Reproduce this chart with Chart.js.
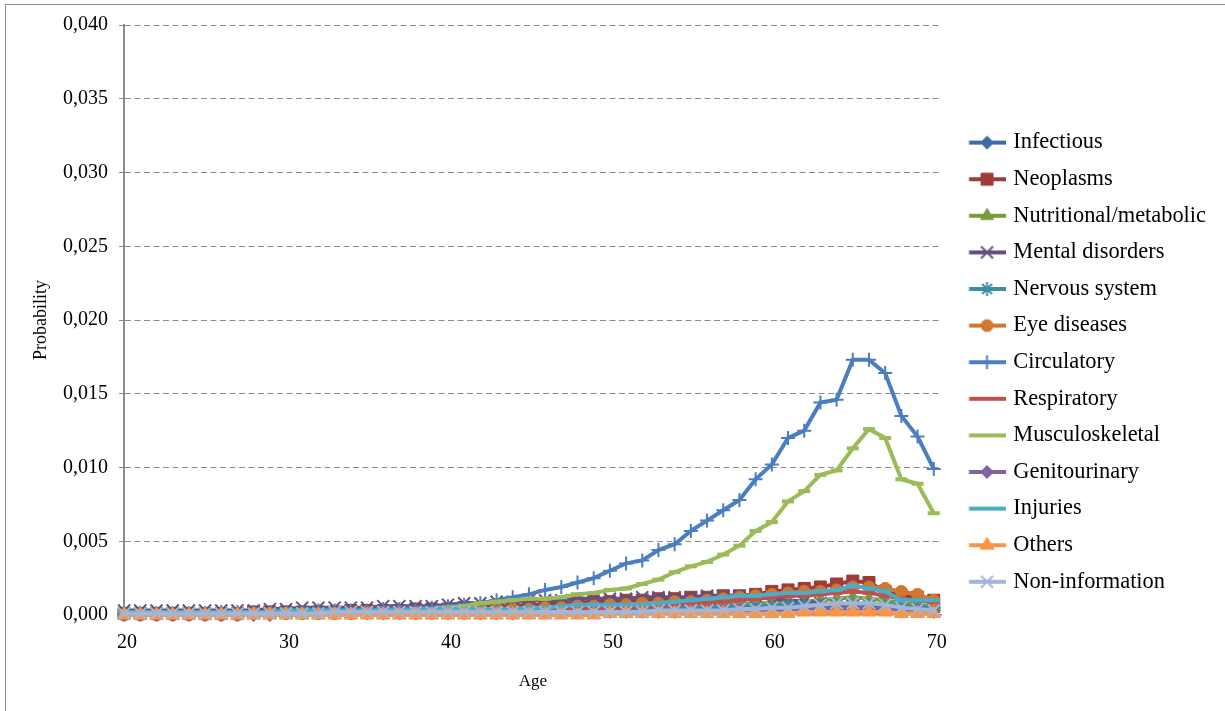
<!DOCTYPE html>
<html>
<head>
<meta charset="utf-8">
<title>Probability by age</title>
<script src="https://cdn.jsdelivr.net/npm/chart.js@4.4.1/dist/chart.umd.min.js"></script>
<style>
  html, body { margin: 0; padding: 0; background: #fff; }
  #wrap { position: relative; width: 1225px; height: 711px; overflow: hidden; }
  #frame { position: absolute; left: 5px; top: 4px; width: 1240px; height: 720px;
           border-left: 1.5px solid #8c8c8c; border-top: 1.5px solid #8c8c8c; pointer-events: none; }
</style>
</head>
<body>
<div id="wrap">
  <canvas id="chart" width="1225" height="711" style="width:1225px;height:711px"></canvas>
  <div id="frame"></div>
</div>
<script>
// ── Data ──────────────────────────────────────────────────────────────

const ages = [20, 21, 22, 23, 24, 25, 26, 27, 28, 29,
              30, 31, 32, 33, 34, 35, 36, 37, 38, 39,
              40, 41, 42, 43, 44, 45, 46, 47, 48, 49,
              50, 51, 52, 53, 54, 55, 56, 57, 58, 59,
              60, 61, 62, 63, 64, 65, 66, 67, 68, 69, 70];

const infectious = [0.0001, 0.0001, 0.0001, 0.0001, 0.0001, 0.0001, 0.0001, 0.0001, 0.0001, 0.0001,
                    0.0001, 0.0001, 0.0001, 0.0001, 0.0001, 0.0002, 0.0002, 0.0002, 0.0002, 0.0002,
                    0.0002, 0.0002, 0.0002, 0.0002, 0.0002, 0.0003, 0.0003, 0.0003, 0.0003, 0.0003,
                    0.0003, 0.0003, 0.0003, 0.0003, 0.0003, 0.0004, 0.0004, 0.0004, 0.0004, 0.0004,
                    0.0004, 0.0005, 0.0005, 0.0005, 0.0005, 0.0006, 0.0005, 0.0005, 0.0004, 0.0004, 0.0003];

const neoplasms = [0.0001, 0.0001, 0.0001, 0.0001, 0.0001, 0.0001, 0.0001, 0.0001, 0.0002, 0.0002,
                   0.0002, 0.0002, 0.0002, 0.0002, 0.0003, 0.0003, 0.0003, 0.0003, 0.0004, 0.0004,
                   0.0004, 0.0005, 0.0005, 0.0006, 0.0006, 0.0007, 0.0007, 0.0008, 0.0008, 0.0009,
                   0.0009, 0.0010, 0.0010, 0.0011, 0.0011, 0.0012, 0.0012, 0.0013, 0.0013, 0.0014,
                   0.0016, 0.0017, 0.0018, 0.0019, 0.0021, 0.0023, 0.0022, 0.0016, 0.0013, 0.0012, 0.0010];

const nutritional = [0.0001, 0.0001, 0.0001, 0.0001, 0.0001, 0.0001, 0.0001, 0.0001, 0.0001, 0.0001,
                     0.0001, 0.0001, 0.0001, 0.0001, 0.0002, 0.0002, 0.0002, 0.0002, 0.0002, 0.0002,
                     0.0002, 0.0002, 0.0003, 0.0003, 0.0003, 0.0003, 0.0004, 0.0004, 0.0004, 0.0004,
                     0.0005, 0.0005, 0.0005, 0.0006, 0.0006, 0.0006, 0.0007, 0.0007, 0.0007, 0.0008,
                     0.0008, 0.0009, 0.0009, 0.0010, 0.0011, 0.0012, 0.0011, 0.0010, 0.0008, 0.0007, 0.0006];

const mental = [0.0003, 0.0003, 0.0003, 0.0003, 0.0003, 0.0003, 0.0003, 0.0003, 0.0003, 0.0004,
                0.0004, 0.0005, 0.0005, 0.0005, 0.0005, 0.0005, 0.0006, 0.0006, 0.0006, 0.0006,
                0.0007, 0.0008, 0.0008, 0.0009, 0.0009, 0.0010, 0.0010, 0.0010, 0.0011, 0.0011,
                0.0011, 0.0011, 0.0012, 0.0012, 0.0012, 0.0012, 0.0013, 0.0013, 0.0013, 0.0012,
                0.0011, 0.0010, 0.0009, 0.0008, 0.0007, 0.0006, 0.0005, 0.0004, 0.0004, 0.0003, 0.0003];

const nervous = [0.0001, 0.0001, 0.0001, 0.0001, 0.0001, 0.0001, 0.0001, 0.0001, 0.0001, 0.0001,
                 0.0002, 0.0002, 0.0002, 0.0002, 0.0002, 0.0002, 0.0002, 0.0002, 0.0002, 0.0002,
                 0.0002, 0.0002, 0.0002, 0.0003, 0.0003, 0.0003, 0.0003, 0.0003, 0.0004, 0.0004,
                 0.0004, 0.0004, 0.0004, 0.0005, 0.0005, 0.0005, 0.0005, 0.0006, 0.0006, 0.0006,
                 0.0006, 0.0007, 0.0007, 0.0007, 0.0007, 0.0008, 0.0007, 0.0007, 0.0006, 0.0005, 0.0005];

const eye = [0.0000, 0.0000, 0.0000, 0.0000, 0.0000, 0.0000, 0.0000, 0.0000, 0.0001, 0.0001,
             0.0001, 0.0001, 0.0001, 0.0001, 0.0001, 0.0002, 0.0002, 0.0002, 0.0002, 0.0002,
             0.0003, 0.0003, 0.0003, 0.0004, 0.0004, 0.0004, 0.0005, 0.0005, 0.0006, 0.0006,
             0.0007, 0.0007, 0.0008, 0.0008, 0.0009, 0.0009, 0.0010, 0.0011, 0.0012, 0.0013,
             0.0014, 0.0015, 0.0016, 0.0016, 0.0017, 0.0019, 0.0019, 0.0018, 0.0016, 0.0014, 0.0010];

const circulatory = [0.0001, 0.0001, 0.0001, 0.0001, 0.0001, 0.0001, 0.0002, 0.0002, 0.0002, 0.0002,
                     0.0002, 0.0002, 0.0003, 0.0003, 0.0003, 0.0003, 0.0004, 0.0004, 0.0004, 0.0005,
                     0.0006, 0.0007, 0.0008, 0.0010, 0.0012, 0.0014, 0.0017, 0.0019, 0.0022, 0.0025,
                     0.0030, 0.0035, 0.0037, 0.0044, 0.0048, 0.0057, 0.0064, 0.0071, 0.0078, 0.0092,
                     0.0102, 0.0120, 0.0125, 0.0144, 0.0146, 0.0173, 0.0173, 0.0164, 0.0135, 0.0121, 0.0099];

const respiratory = [0.0001, 0.0001, 0.0001, 0.0001, 0.0001, 0.0001, 0.0001, 0.0001, 0.0001, 0.0001,
                     0.0002, 0.0002, 0.0002, 0.0002, 0.0002, 0.0002, 0.0002, 0.0002, 0.0002, 0.0002,
                     0.0003, 0.0003, 0.0003, 0.0003, 0.0003, 0.0004, 0.0004, 0.0004, 0.0004, 0.0004,
                     0.0005, 0.0005, 0.0006, 0.0006, 0.0007, 0.0008, 0.0008, 0.0009, 0.0010, 0.0011,
                     0.0012, 0.0013, 0.0013, 0.0014, 0.0015, 0.0016, 0.0015, 0.0013, 0.0011, 0.0010, 0.0009];

const musculoskeletal = [0.0000, 0.0000, 0.0000, 0.0000, 0.0001, 0.0001, 0.0001, 0.0001, 0.0001, 0.0001,
                         0.0001, 0.0001, 0.0002, 0.0002, 0.0002, 0.0002, 0.0003, 0.0003, 0.0003, 0.0004,
                         0.0005, 0.0006, 0.0008, 0.0009, 0.0010, 0.0011, 0.0011, 0.0012, 0.0014, 0.0015,
                         0.0017, 0.0018, 0.0021, 0.0024, 0.0029, 0.0033, 0.0036, 0.0041, 0.0047, 0.0057,
                         0.0063, 0.0077, 0.0084, 0.0095, 0.0098, 0.0113, 0.0126, 0.0120, 0.0092, 0.0089, 0.0069];

const genitourinary = [0.0000, 0.0000, 0.0000, 0.0000, 0.0000, 0.0000, 0.0000, 0.0000, 0.0000, 0.0000,
                       0.0001, 0.0001, 0.0001, 0.0001, 0.0001, 0.0001, 0.0001, 0.0001, 0.0001, 0.0001,
                       0.0001, 0.0001, 0.0001, 0.0001, 0.0001, 0.0002, 0.0002, 0.0002, 0.0002, 0.0002,
                       0.0002, 0.0002, 0.0002, 0.0002, 0.0002, 0.0003, 0.0003, 0.0003, 0.0003, 0.0003,
                       0.0003, 0.0003, 0.0004, 0.0004, 0.0004, 0.0005, 0.0004, 0.0004, 0.0003, 0.0003, 0.0002];

const injuries = [0.0002, 0.0002, 0.0002, 0.0002, 0.0002, 0.0002, 0.0002, 0.0002, 0.0002, 0.0002,
                  0.0003, 0.0003, 0.0003, 0.0003, 0.0003, 0.0003, 0.0003, 0.0003, 0.0004, 0.0004,
                  0.0004, 0.0004, 0.0004, 0.0004, 0.0004, 0.0005, 0.0005, 0.0006, 0.0007, 0.0007,
                  0.0007, 0.0007, 0.0007, 0.0008, 0.0009, 0.0010, 0.0011, 0.0012, 0.0013, 0.0013,
                  0.0014, 0.0015, 0.0015, 0.0016, 0.0017, 0.0020, 0.0018, 0.0016, 0.0010, 0.0010, 0.0010];

const others = [0.0000, 0.0000, 0.0000, 0.0000, 0.0000, 0.0000, 0.0000, 0.0000, 0.0000, 0.0000,
                0.0000, 0.0000, 0.0000, 0.0000, 0.0000, 0.0000, 0.0000, 0.0000, 0.0000, 0.0000,
                0.0000, 0.0000, 0.0000, 0.0000, 0.0000, 0.0000, 0.0000, 0.0000, 0.0000, 0.0000,
                0.0001, 0.0001, 0.0001, 0.0001, 0.0001, 0.0001, 0.0001, 0.0001, 0.0001, 0.0001,
                0.0001, 0.0001, 0.0002, 0.0002, 0.0002, 0.0002, 0.0002, 0.0002, 0.0001, 0.0001, 0.0001];

const noInfo = [0.0001, 0.0001, 0.0001, 0.0001, 0.0001, 0.0001, 0.0001, 0.0001, 0.0001, 0.0001,
                0.0001, 0.0001, 0.0001, 0.0002, 0.0002, 0.0002, 0.0002, 0.0002, 0.0002, 0.0002,
                0.0002, 0.0002, 0.0002, 0.0002, 0.0002, 0.0002, 0.0002, 0.0002, 0.0002, 0.0002,
                0.0002, 0.0002, 0.0002, 0.0003, 0.0003, 0.0003, 0.0003, 0.0003, 0.0004, 0.0004,
                0.0005, 0.0005, 0.0006, 0.0007, 0.0008, 0.0008, 0.0008, 0.0007, 0.0005, 0.0004, 0.0003];

const seriesNames = ['Infectious', 'Neoplasms', 'Nutritional/metabolic', 'Mental disorders',
                     'Nervous system', 'Eye diseases', 'Circulatory', 'Respiratory',
                     'Musculoskeletal', 'Genitourinary', 'Injuries', 'Others', 'Non-information'];
const seriesValues = [infectious, neoplasms, nutritional, mental, nervous, eye, circulatory,
                      respiratory, musculoskeletal, genitourinary, injuries, others, noInfo];

const xTicks = [20, 30, 40, 50, 60, 70];
const xTickLabels = ['20', '30', '40', '50', '60', '70'];
const yTicks = [0, 0.005, 0.010, 0.015, 0.020, 0.025, 0.030, 0.035, 0.040];
const yTickLabels = ['0,000', '0,005', '0,010', '0,015', '0,020', '0,025', '0,030', '0,035', '0,040'];

// ── Styles (Excel-like markers) ──────────────────────────────────────

const seriesStyles = [
    { color: '#3D6CA5', marker: 'rectRot',  r: 6.5, pw: 1 },
    { color: '#9E3B38', marker: 'rect',     r: 8.5, pw: 1 },
    { color: '#7A9A3D', marker: 'triangle', r: 7.5, pw: 1 },
    { color: '#65507F', marker: 'crossRot', r: 8.5, pw: 2 },
    { color: '#3B8DA2', marker: 'star',     r: 7,   pw: 2 },
    { color: '#D0782F', marker: 'circle',   r: 6,   pw: 1 },
    { color: '#4A7EC0', marker: 'cross',    r: 7,   pw: 2 },
    { color: '#C0504D', marker: 'line',     r: 6,   pw: 4 },
    { color: '#9BBB59', marker: 'line',     r: 6,   pw: 4 },
    { color: '#8064A2', marker: 'rectRot',  r: 6.5, pw: 1 },
    { color: '#4BACC6', marker: 'line',     r: 6,   pw: 4 },
    { color: '#F79646', marker: 'triangle', r: 8,   pw: 1 },
    { color: '#A3B6D8', marker: 'crossRot', r: 8.5, pw: 2 },
];

Chart.defaults.font.family = "'Liberation Serif', 'Times New Roman', serif";
Chart.defaults.color = '#000';

// Legend icon: short line with the marker in the middle
function makeLegendIcon(style) {
    const c = document.createElement('canvas');
    c.width = 53; c.height = 20;
    const g = c.getContext('2d');
    g.strokeStyle = style.color;
    g.fillStyle = style.color;
    g.lineWidth = 4;
    g.beginPath(); g.moveTo(16.5, 10); g.lineTo(53, 10); g.stroke();
    g.lineWidth = style.pw;
    Chart.helpers.drawPoint(g, { pointStyle: style.marker, radius: style.r, borderWidth: style.pw, rotation: 0 }, 34.5, 10);
    return c;
}
const legendIcons = seriesStyles.map(makeLegendIcon);

const datasets = seriesNames.map((name, i) => {
    const st = seriesStyles[i];
    return {
        label: name,
        data: seriesValues[i].map((v, j) => ({ x: ages[j], y: v })),
        borderColor: st.color,
        backgroundColor: st.color,
        borderWidth: 4,
        tension: 0,
        pointStyle: st.marker,
        pointRadius: st.r,
        pointBorderWidth: st.pw,
        pointBackgroundColor: st.color,
        pointBorderColor: st.color,
        clip: false,
        order: seriesNames.length - 1 - i,   // later series on top, like Excel
    };
});

new Chart(document.getElementById('chart'), {
    type: 'line',
    data: { datasets },
    options: {
        responsive: false,
        animation: false,
        events: [],
        layout: { padding: { left: 30.5, top: 25, right: 9, bottom: 18.8 } },
        scales: {
            x: {
                type: 'linear',
                min: 20,
                max: 70.5,
                afterBuildTicks: s => { s.ticks = xTicks.map(v => ({ value: v })); },
                ticks: {
                    font: { size: 20 },
                    padding: 16,
                    labelOffset: 3,
                    maxRotation: 0,
                    callback: (v, i) => xTickLabels[i],
                },
                grid: { display: false, drawTicks: false },
                border: { display: true, color: '#8c8c8c', width: 1.5 },
                title: { display: true, text: 'Age', font: { size: 17 }, padding: { top: 0.8, bottom: 0 } },
            },
            y: {
                min: 0,
                max: 0.04,
                afterBuildTicks: s => { s.ticks = yTicks.map(v => ({ value: v })); },
                ticks: {
                    font: { size: 20 },
                    padding: 11,
                    callback: (v, i) => yTickLabels[i],
                },
                grid: {
                    color: c => (c.tick && c.tick.value === 0 ? 'rgba(0,0,0,0)' : '#8c8c8c'),
                    lineWidth: 1,
                    tickLength: 5,
                    tickColor: '#8c8c8c',
                    tickBorderDash: [],
                },
                border: { display: true, color: '#8c8c8c', width: 2, dash: [6, 3.5] },
                title: { display: true, text: 'Probability', font: { size: 18 }, padding: { top: 0, bottom: 0 } },
            },
        },
        plugins: {
            tooltip: { enabled: false },
            legend: {
                position: 'right',
                align: 'center',
                // empty title only nudges the items down a few pixels
                title: { display: true, text: '', padding: 0, font: { size: 6, lineHeight: 1.2 } },
                labels: {
                    usePointStyle: true,
                    pointStyleWidth: 46,
                    padding: 14.2,
                    font: { size: 22.4 },
                    color: '#000',
                    sort: (a, b) => a.datasetIndex - b.datasetIndex,
                    generateLabels: chart =>
                        Chart.defaults.plugins.legend.labels.generateLabels(chart).map(item => {
                            item.pointStyle = legendIcons[item.datasetIndex];
                            return item;
                        }),
                },
            },
        },
    },
});
</script>
</body>
</html>
